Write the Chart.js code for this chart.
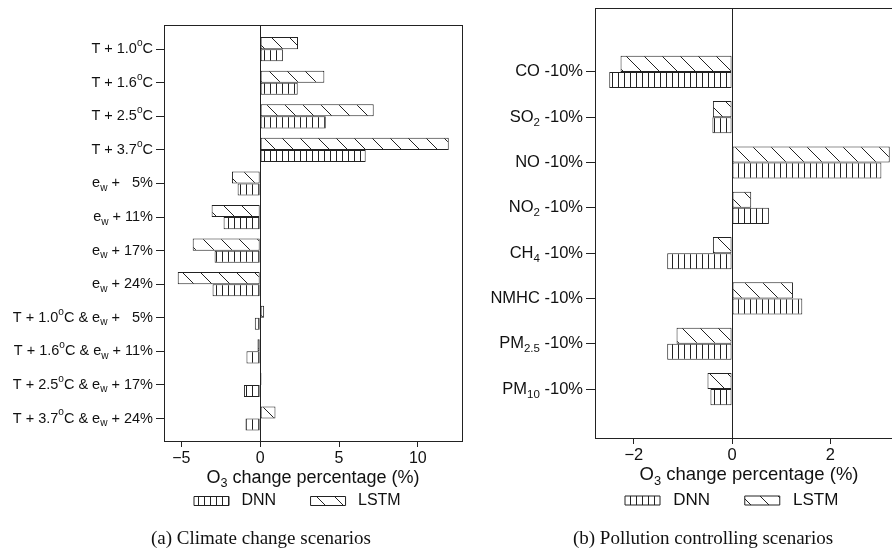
<!DOCTYPE html>
<html>
<head>
<meta charset="utf-8">
<script src="https://cdn.jsdelivr.net/npm/chart.js@4"></script>
<style>
  body { margin: 0; width: 892px; height: 556px; overflow: hidden; background: #fff; position: relative; }
  canvas { position: absolute; top: 0; }
  #climate { left: 0; }
  #pollution { left: 480px; }
  .cap { position: absolute; top: 527px; font-family: "Liberation Serif", "Times New Roman", serif; font-size: 19px; color: #111; white-space: nowrap; transform: translateX(-50%); }
</style>
</head>
<body>
<canvas id="climate" width="593" height="556"></canvas>
<canvas id="pollution" width="432" height="556"></canvas>
<div class="cap" style="left:261px">(a) Climate change scenarios</div>
<div class="cap" style="left:703px">(b) Pollution controlling scenarios</div>
<script>
// ^{..} = superscript, _{..} = subscript
const climateLabels = [
    'T + 1.0^{o}C', 'T + 1.6^{o}C', 'T + 2.5^{o}C', 'T + 3.7^{o}C',
    'e_{w} +   5%', 'e_{w} + 11%', 'e_{w} + 17%', 'e_{w} + 24%',
    'T + 1.0^{o}C & e_{w} +   5%', 'T + 1.6^{o}C & e_{w} + 11%',
    'T + 2.5^{o}C & e_{w} + 17%', 'T + 3.7^{o}C & e_{w} + 24%'
];
const climateDNN = [1.44, 2.38, 4.16, 6.69, -1.43, -2.32, -2.89, -3.02, -0.34, -0.87, -1.03, -0.93];
const climateLSTM = [2.4, 4.07, 7.2, 11.96, -1.79, -3.08, -4.28, -5.23, 0.25, -0.17, 0.08, 0.97];
const climateTicks = [-5, 0, 5, 10];

const pollutionLabels = [
    'CO -10%', 'SO_{2} -10%', 'NO -10%', 'NO_{2} -10%',
    'CH_{4} -10%', 'NMHC -10%', 'PM_{2.5} -10%', 'PM_{10} -10%'
];
const pollutionDNN = [-2.5, -0.4, 3.04, 0.75, -1.32, 1.43, -1.32, -0.44];
const pollutionLSTM = [-2.27, -0.39, 3.21, 0.39, -0.39, 1.24, -1.13, -0.5];
const pollutionTicks = [-2, 0, 2];

const axisTitle = 'O_{3} change percentage (%)';
const FONT = '"Liberation Sans", Arial, sans-serif';

Chart.defaults.font.family = FONT;
Chart.defaults.color = '#111';

function vertPattern() {
    const c = document.createElement('canvas');
    c.width = 6; c.height = 6;
    const g = c.getContext('2d');
    g.fillStyle = '#fff'; g.fillRect(0, 0, 6, 6);
    g.strokeStyle = '#222'; g.lineWidth = 1;
    g.beginPath(); g.moveTo(0.5, 0); g.lineTo(0.5, 6); g.stroke();
    return g.createPattern(c, 'repeat');
}

function diagPattern() {
    const s = 18;
    const c = document.createElement('canvas');
    c.width = s; c.height = s;
    const g = c.getContext('2d');
    g.fillStyle = '#fff'; g.fillRect(0, 0, s, s);
    g.strokeStyle = '#222'; g.lineWidth = 1;
    g.beginPath(); g.moveTo(-1, -1); g.lineTo(s + 1, s + 1); g.stroke();
    return g.createPattern(c, 'repeat');
}

function parseRich(str) {
    return str.split(/([\^_]\{[^}]*\})/).filter(s => s).map(s => {
        if (s[0] === '^') return {t: s.slice(2, -1), m: 1};
        if (s[0] === '_') return {t: s.slice(2, -1), m: -1};
        return {t: s, m: 0};
    });
}

function drawRich(ctx, str, x, y, size, align) {
    const parts = parseRich(str);
    const fontOf = p => (p.m ? size * 0.7 : size).toFixed(1) + 'px ' + FONT;
    let w = 0;
    parts.forEach(p => { ctx.font = fontOf(p); p.w = ctx.measureText(p.t).width; w += p.w; });
    let cx = align === 'right' ? x - w : align === 'center' ? x - w / 2 : x;
    ctx.textAlign = 'left';
    ctx.textBaseline = 'middle';
    ctx.fillStyle = '#111';
    parts.forEach(p => {
        ctx.font = fontOf(p);
        const dy = p.m === 1 ? -size * 0.4 : p.m === -1 ? size * 0.33 : 0;
        ctx.fillText(p.t, cx, y + dy);
        cx += p.w;
    });
}

const richAxis = {
    id: 'richAxis',
    beforeDatasetsDraw(chart) {
        const {ctx, chartArea: a} = chart;
        ctx.save();
        ctx.strokeStyle = '#222';
        ctx.lineWidth = 1;
        ctx.strokeRect(Math.round(a.left) + 0.5, Math.round(a.top) + 0.5, Math.round(a.width), Math.round(a.height));
        ctx.restore();
    },
    afterDraw(chart, args, opts) {
        const {ctx, chartArea: a, scales} = chart;
        ctx.save();
        const lx = scales.y.right - opts.tickLen - 3;
        opts.labels.forEach((lab, i) => drawRich(ctx, lab, lx, scales.y.getPixelForValue(i), opts.size, 'right'));
        drawRich(ctx, axisTitle, (a.left + a.right) / 2, a.bottom + opts.titleOffset, opts.titleSize, 'center');
        ctx.restore();
    }
};

function makeChart(id, o) {
    const common = {borderColor: '#222', borderWidth: 1, borderSkipped: false, categoryPercentage: o.catPct, barPercentage: 1};
    return new Chart(document.getElementById(id), {
        type: 'bar',
        data: {
            datasets: [
                Object.assign({label: o.names[1], data: o.lstm.map((v, i) => ({x: v, y: i})), backgroundColor: diagPattern()}, common),
                Object.assign({label: o.names[0], data: o.dnn.map((v, i) => ({x: v, y: i})), backgroundColor: vertPattern()}, common)
            ]
        },
        options: {
            indexAxis: 'y',
            responsive: false,
            animation: false,
            layout: {padding: o.padding},
            scales: {
                x: {
                    type: 'linear',
                    min: o.xMin,
                    max: o.xMax,
                    afterBuildTicks: s => { s.ticks = o.ticks.map(v => ({value: v})); },
                    afterFit: s => { s.height = o.xHeight; },
                    ticks: {font: {size: o.tickSize}, color: '#111', padding: 2, callback: v => String(v).replace('-', '\u2212')},
                    grid: {
                        color: c => (c.tick && c.tick.value === 0) ? '#222' : 'rgba(0,0,0,0)',
                        tickColor: '#222',
                        tickLength: 6
                    },
                    border: {display: false}
                },
                y: {
                    type: 'linear',
                    reverse: true,
                    offset: false,
                    min: o.yMin,
                    max: o.yMax,
                    afterBuildTicks: s => { s.ticks = o.labels.map((_, i) => ({value: i})); },
                    afterFit: s => { s.width = o.yWidth; },
                    ticks: {display: false},
                    grid: {offset: false, drawOnChartArea: false, tickColor: '#222', tickLength: o.tickLen},
                    border: {display: false}
                }
            },
            plugins: {
                legend: {
                    position: 'bottom',
                    fullSize: false,
                    align: 'start',
                    labels: {
                        boxWidth: 35,
                        boxHeight: 9,
                        padding: o.legendPad,
                        color: '#111',
                        font: {size: o.legendSize},
                        sort: (a, b) => b.datasetIndex - a.datasetIndex
                    }
                },
                tooltip: {enabled: false},
                richAxis: {labels: o.labels, size: o.labelSize, tickLen: o.tickLen, titleSize: o.titleSize, titleOffset: 37}
            }
        },
        plugins: [richAxis]
    });
}

makeChart('climate', {
    labels: climateLabels, dnn: climateDNN, lstm: climateLSTM, ticks: climateTicks,
    names: [' DNN ', ' LSTM'],
    xMin: -6.1, xMax: 12.8, yMin: -0.72, yMax: 11.67,
    padding: {left: 0, top: 25, right: 131, bottom: 37},
    xHeight: 22, yWidth: 164, tickLen: 8, catPct: 0.72,
    labelSize: 14.5, tickSize: 16, titleSize: 18, legendSize: 16, legendPad: 30
});

makeChart('pollution', {
    labels: pollutionLabels, dnn: pollutionDNN, lstm: pollutionLSTM, ticks: pollutionTicks,
    names: [' DNN ', ' LSTM'],
    xMin: -2.79, xMax: 3.48, yMin: -1.41, yMax: 8.08,
    padding: {left: 0, top: 8, right: 9, bottom: 37},
    xHeight: 24, yWidth: 115, tickLen: 9, catPct: 0.71,
    labelSize: 16.5, tickSize: 16.5, titleSize: 18.5, legendSize: 17, legendPad: 30
});
</script>
</body>
</html>
